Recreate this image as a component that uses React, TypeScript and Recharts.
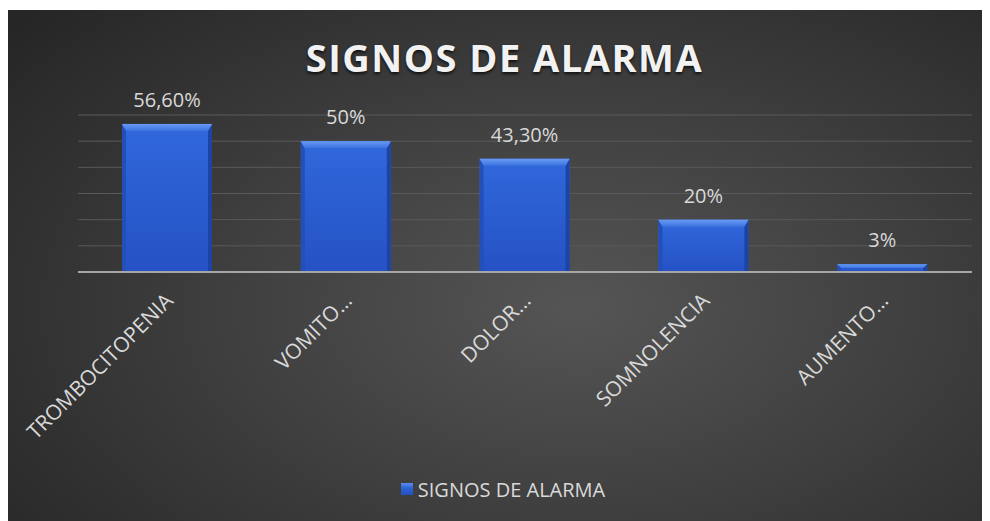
import { BarChart, Bar, XAxis, YAxis, CartesianGrid, Legend, LabelList } from 'recharts';

const categories = ['TROMBOCITOPENIA', 'VOMITO…', 'DOLOR…', 'SOMNOLENCIA', 'AUMENTO…'];
const values = [56.6, 50, 43.3, 20, 3];
const valueLabels = ['56,60%', '50%', '43,30%', '20%', '3%'];
const yTicks = [0, 10, 20, 30, 40, 50, 60];

const data = categories.map((name, i) => ({
  name,
  value: values[i],
  label: valueLabels[i],
}));

const FONT = '"Open Sans", "Noto Sans", sans-serif';

// bevelled bar like the Excel style
const BevelBar = (props: any) => {
  const { x, y, width, height } = props;
  if (!height || height <= 0) return null;
  const t = Math.min(7, height / 2);
  const s = Math.min(4, width / 4);
  return (
    <g>
      <rect x={x} y={y} width={width} height={height} fill='url(#barFill)' />
      <polygon
        points={`${x},${y} ${x + s},${y + t} ${x + s},${y + height} ${x},${y + height}`}
        fill='#234fb8'
      />
      <polygon
        points={`${x + width},${y} ${x + width - s},${y + t} ${x + width - s},${y + height} ${x + width},${y + height}`}
        fill='#1d44a4'
      />
      <polygon
        points={`${x},${y} ${x + width},${y} ${x + width - s},${y + t} ${x + s},${y + t}`}
        fill='url(#barTop)'
      />
    </g>
  );
};

const ValueLabel = (props: any) => {
  const { x, y, width, value } = props;
  return (
    <text
      x={x + width / 2}
      y={y - 17}
      textAnchor='middle'
      fill='#d9d9d9'
      fontSize={20}
      fontFamily={FONT}
    >
      {value}
    </text>
  );
};

const AngledTick = ({ x, y, payload }: any) => {
  const ax = x + 7;
  const ay = y + 30;
  return (
    <text
      x={ax}
      y={ay}
      textAnchor='end'
      fill='#d9d9d9'
      fontSize={21}
      fontFamily={FONT}
      transform={`rotate(-45, ${ax}, ${ay})`}
    >
      {payload.value}
    </text>
  );
};

const LegendBox = () => (
  <div
    style={{
      height: 28,
      display: 'flex',
      justifyContent: 'center',
      alignItems: 'center',
      paddingRight: 44,
      fontFamily: FONT,
      fontSize: 20,
      color: '#d9d9d9',
    }}
  >
    <span
      style={{
        width: 12,
        height: 12,
        marginRight: 5,
        background: 'linear-gradient(#5b8ff0, #2f63d6 40%, #2450c0)',
      }}
    />
    SIGNOS DE ALARMA
  </div>
);

export default function App() {
  return (
    <div
      style={{
        position: 'relative',
        width: 983,
        height: 511,
        marginLeft: -1,
        marginTop: 2,
        background:
          'radial-gradient(ellipse 75% 85% at 58% 58%, #555555 0%, #404040 45%, #262626 100%)',
      }}
    >
      <div
        style={{
          position: 'absolute',
          top: 28,
          left: 6,
          width: 983,
          textAlign: 'center',
          fontFamily: FONT,
          fontWeight: 700,
          fontSize: 38,
          lineHeight: '38px',
          letterSpacing: 1.5,
          color: '#f2f2f2',
          textShadow: '0 2px 3px rgba(0,0,0,0.7)',
        }}
      >
        SIGNOS DE ALARMA
      </div>
      <BarChart
        width={983}
        height={511}
        data={data}
        margin={{ top: 105, right: 18, left: 71, bottom: 18 }}
        barSize={90}
      >
        <defs>
          <linearGradient id='barFill' x1='0' y1='0' x2='0' y2='1'>
            <stop offset='0%' stopColor='#3068dc' />
            <stop offset='100%' stopColor='#2552c4' />
          </linearGradient>
          <linearGradient id='barTop' x1='0' y1='0' x2='0' y2='1'>
            <stop offset='0%' stopColor='#6a9cf4' />
            <stop offset='100%' stopColor='#3a72e0' />
          </linearGradient>
        </defs>
        <CartesianGrid stroke='#5a5a5a' vertical={false} />
        <XAxis
          dataKey='name'
          interval={0}
          height={203}
          tickLine={false}
          tickSize={0}
          tickMargin={0}
          axisLine={{ stroke: '#a6a6a6', strokeWidth: 2 }}
          tick={<AngledTick />}
        />
        <YAxis hide domain={[0, 60]} ticks={yTicks} />
        <Legend verticalAlign='bottom' content={<LegendBox />} />
        <Bar dataKey='value' name='SIGNOS DE ALARMA' shape={<BevelBar />} isAnimationActive={false}>
          <LabelList dataKey='label' content={<ValueLabel />} />
        </Bar>
      </BarChart>
    </div>
  );
}
